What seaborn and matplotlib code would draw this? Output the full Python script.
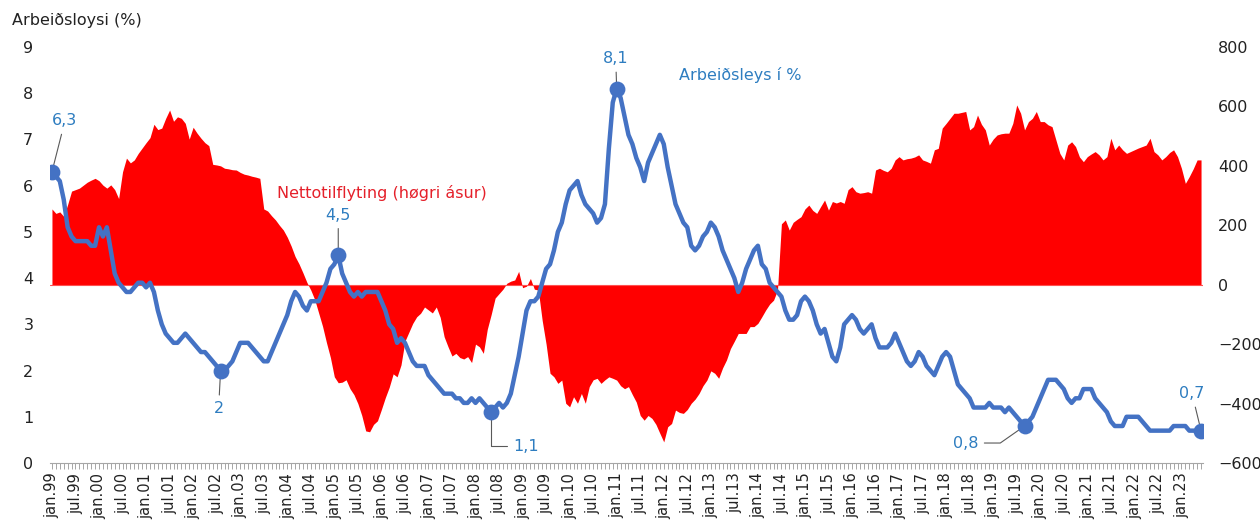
import numpy as np
import pandas as pd
import matplotlib
matplotlib.use('Agg')
import matplotlib.pyplot as plt
import seaborn as sns
from matplotlib.ticker import MultipleLocator, FixedLocator

# monthly values, jan.99 - jun.23
unemployment = [
    6.3, 6.2, 6.1, 5.7, 5.1, 4.9, 4.8, 4.8, 4.8, 4.8, 4.7, 4.7,   # 1999
    5.1, 4.9, 5.1, 4.6, 4.1, 3.9, 3.8, 3.7, 3.7, 3.8, 3.9, 3.9,   # 2000
    3.8, 3.9, 3.7, 3.3, 3.0, 2.8, 2.7, 2.6, 2.6, 2.7, 2.8, 2.7,   # 2001
    2.6, 2.5, 2.4, 2.4, 2.3, 2.2, 2.1, 2.0, 2.0, 2.1, 2.2, 2.4,   # 2002
    2.6, 2.6, 2.6, 2.5, 2.4, 2.3, 2.2, 2.2, 2.4, 2.6, 2.8, 3.0,   # 2003
    3.2, 3.5, 3.7, 3.6, 3.4, 3.3, 3.5, 3.5, 3.5, 3.7, 3.9, 4.2,   # 2004
    4.3, 4.5, 4.1, 3.9, 3.7, 3.6, 3.7, 3.6, 3.7, 3.7, 3.7, 3.7,   # 2005
    3.5, 3.3, 3.0, 2.9, 2.6, 2.7, 2.6, 2.4, 2.2, 2.1, 2.1, 2.1,   # 2006
    1.9, 1.8, 1.7, 1.6, 1.5, 1.5, 1.5, 1.4, 1.4, 1.3, 1.3, 1.4,   # 2007
    1.3, 1.4, 1.3, 1.2, 1.1, 1.2, 1.3, 1.2, 1.3, 1.5, 1.9, 2.3,   # 2008
    2.8, 3.3, 3.5, 3.5, 3.6, 3.9, 4.2, 4.3, 4.6, 5.0, 5.2, 5.6,   # 2009
    5.9, 6.0, 6.1, 5.8, 5.6, 5.5, 5.4, 5.2, 5.3, 5.6, 6.8, 7.8,   # 2010
    8.1, 7.9, 7.5, 7.1, 6.9, 6.6, 6.4, 6.1, 6.5, 6.7, 6.9, 7.1,   # 2011
    6.9, 6.4, 6.0, 5.6, 5.4, 5.2, 5.1, 4.7, 4.6, 4.7, 4.9, 5.0,   # 2012
    5.2, 5.1, 4.9, 4.6, 4.4, 4.2, 4.0, 3.7, 3.9, 4.2, 4.4, 4.6,   # 2013
    4.7, 4.3, 4.2, 3.9, 3.8, 3.7, 3.6, 3.3, 3.1, 3.1, 3.2, 3.5,   # 2014
    3.6, 3.5, 3.3, 3.0, 2.8, 2.9, 2.6, 2.3, 2.2, 2.5, 3.0, 3.1,   # 2015
    3.2, 3.1, 2.9, 2.8, 2.9, 3.0, 2.7, 2.5, 2.5, 2.5, 2.6, 2.8,   # 2016
    2.6, 2.4, 2.2, 2.1, 2.2, 2.4, 2.3, 2.1, 2.0, 1.9, 2.1, 2.3,   # 2017
    2.4, 2.3, 2.0, 1.7, 1.6, 1.5, 1.4, 1.2, 1.2, 1.2, 1.2, 1.3,   # 2018
    1.2, 1.2, 1.2, 1.1, 1.2, 1.1, 1.0, 0.9, 0.8, 0.9, 1.0, 1.2,   # 2019
    1.4, 1.6, 1.8, 1.8, 1.8, 1.7, 1.6, 1.4, 1.3, 1.4, 1.4, 1.6,   # 2020
    1.6, 1.6, 1.4, 1.3, 1.2, 1.1, 0.9, 0.8, 0.8, 0.8, 1.0, 1.0,   # 2021
    1.0, 1.0, 0.9, 0.8, 0.7, 0.7, 0.7, 0.7, 0.7, 0.7, 0.8, 0.8,   # 2022
    0.8, 0.8, 0.7, 0.7, 0.7, 0.7,                                 # 2023
]

net_migration = [
    255, 240, 245, 230, 270, 315, 320, 325, 335, 345, 352, 358,
    350, 335, 325, 336, 320, 290, 380, 426, 410, 420, 442, 460,
    478, 495, 540, 522, 527, 560, 588, 550, 565, 560, 543, 490,
    530, 510, 493, 478, 468, 405, 403, 400, 392, 390, 387, 386,
    378, 372, 369, 365, 362, 358, 255, 248, 232, 218, 200, 184,
    160, 130, 95, 70, 40, 8, -18, -50, -95, -140, -195, -245,
    -310, -330, -328, -320, -350, -370, -400, -440, -492, -495, -470, -458,
    -420, -380, -345, -300, -310, -270, -190, -160, -130, -108, -96, -75,
    -85, -95, -75, -110, -175, -209, -240, -231, -245, -250, -242, -262,
    -200, -209, -231, -150, -100, -45, -30, -15, 5, 12, 16, 45,
    -10, -5, 21, -15, -18, -120, -200, -298, -310, -332, -321, -399,
    -411, -377, -399, -366, -399, -343, -320, -315, -332, -320, -310, -315,
    -321, -340, -350, -343, -370, -395, -440, -456, -440, -450, -470, -500,
    -529, -478, -467, -422, -430, -433, -420, -399, -385, -366, -340, -321,
    -290, -298, -315, -280, -253, -215, -190, -164, -164, -164, -141, -141,
    -130, -108, -85, -65, -52, -18, 205, 218, 184, 210, 220, 229,
    255, 268, 250, 240, 263, 285, 251, 280, 275, 280, 274, 320,
    330, 313, 308, 310, 313, 308, 386, 392, 385, 380, 392, 420,
    431, 420, 424, 426, 430, 437, 420, 415, 409, 454, 459, 527,
    543, 560, 577, 577, 580, 583, 521, 532, 571, 540, 521, 470,
    490, 504, 508, 510, 510, 543, 605, 577, 521, 549, 560, 583,
    549, 549, 538, 532, 487, 442, 420, 470, 481, 465, 430, 414,
    431, 440, 448, 437, 420, 431, 493, 454, 470, 454, 442, 448,
    454, 460, 465, 470, 493, 448, 437, 420, 431, 445, 454, 431,
    392, 341, 364, 390, 420, 420,
]

start_year = 1999
highlight_idx = [0, 43, 73, 112, 144, 248, 293]
# label offsets in pixels from the marked point
highlight_offset = [(13, 51), (-2, -38), (0, 40), (35, -34), (-1, 30), (-59, -17), (-9, 37)]
highlight_conn = ['arc3', 'arc3', 'arc3', 'angle,angleA=0,angleB=90,rad=0',
                  'arc3', 'angle,angleA=0,angleB=35,rad=0', 'arc3']

df = pd.DataFrame({'month': np.arange(len(unemployment)),
                   'unemployment': unemployment,
                   'net_migration': net_migration})

tick_pos = list(range(0, len(df), 6))
tick_labels = [('jan' if m % 12 == 0 else 'jul') + '.' + f'{(start_year + m // 12) % 100:02d}'
               for m in tick_pos]

sns.set_theme(style='white')
plt.rcParams['font.family'] = ['DejaVu Sans']

line_blue = '#4472C4'
text_blue = '#2E7DC0'
red = '#FF0000'
grey = '#A6A6A6'

fig, ax = plt.subplots(figsize=(12.6, 5.3), dpi=100)
fig.subplots_adjust(left=50/1260, right=1203/1260, bottom=1-463/530, top=1-47/530)

# net migration area on the right axis
ax2 = ax.twinx()
ax2.fill_between(df['month'], df['net_migration'], 0, color=red, linewidth=0)
ax2.axhline(0, color='#FF5050', lw=0.8)
ax2.set_ylim(-600, 800)
ax2.set_yticks(range(-600, 801, 200))
ax2.tick_params(axis='y', length=0, labelsize=11.5, pad=11, colors='#222222')
for s in ax2.spines.values():
    s.set_visible(False)
ax2.grid(False)

# unemployment line on the left axis, drawn above the area
ax.set_zorder(ax2.get_zorder() + 1)
ax.patch.set_visible(False)
sns.lineplot(data=df, x='month', y='unemployment', ax=ax, color=line_blue,
             linewidth=3.2, solid_capstyle='round', solid_joinstyle='round')

hl = df.loc[highlight_idx]
ax.scatter(hl['month'], hl['unemployment'], s=130, color=line_blue, zorder=5, linewidths=0)

for (i, row), off, conn in zip(hl.iterrows(), highlight_offset, highlight_conn):
    label = f"{row['unemployment']:.1f}".replace('.', ',')
    if label.endswith(',0'):
        label = label[:-2]
    ax.annotate(label, xy=(row['month'], row['unemployment']), xytext=off,
                textcoords='offset pixels', ha='center', va='center',
                fontsize=11.5, color=text_blue,
                arrowprops=dict(arrowstyle='-', color='#595959', lw=0.8,
                                connectionstyle=conn, shrinkA=2, shrinkB=0))

ax.text(57.5, 5.84, 'Nettotilflyting (høgri ásur)', color='#E5202A', fontsize=11.5,
        ha='left', va='center')
ax.text(175.5, 8.4, 'Arbeiðsleys í %', color=text_blue, fontsize=11.5,
        ha='center', va='center')

ax.set_xlim(-0.5, len(df) - 0.5)
ax.set_ylim(0, 9)
ax.set_yticks(range(0, 10))
ax.xaxis.set_major_locator(FixedLocator(tick_pos))
ax.xaxis.set_minor_locator(MultipleLocator(1))
ax.set_xticklabels(tick_labels, rotation=90, fontsize=10.5, color='#222222')
ax.tick_params(axis='x', which='both', bottom=True, length=4, width=0.7,
               color=grey, pad=3, direction='out')
ax.tick_params(axis='y', length=0, labelsize=11.5, pad=12, colors='#222222')
ax.set_xlabel('')
ax.set_ylabel('')
for side in ['top', 'left', 'right']:
    ax.spines[side].set_visible(False)
ax.spines['bottom'].set_color(grey)
ax.spines['bottom'].set_linewidth(0.8)
ax.grid(False)

fig.text(12/1260, 1 - 20/530, 'Arbeiðsloysi (%)', fontsize=11.5, color='#222222',
         ha='left', va='center')

fig.savefig('out.png', dpi=100)
plt.close(fig)
